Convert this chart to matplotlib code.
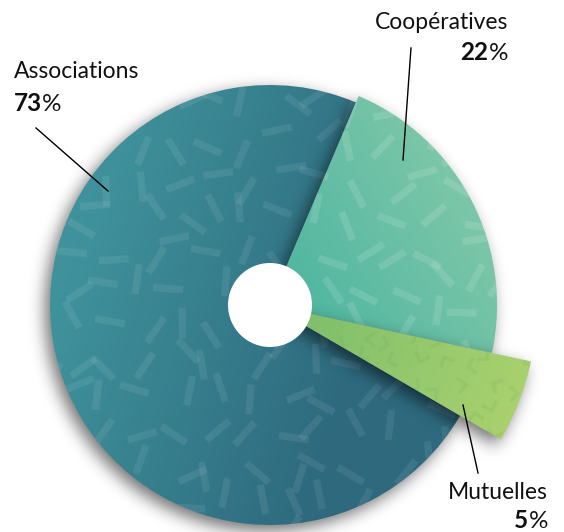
import numpy as np
import matplotlib
matplotlib.use("Agg")
import matplotlib.pyplot as plt
from matplotlib.patches import Wedge, Circle
from matplotlib.collections import LineCollection
from matplotlib.colors import to_rgb

# ---- data ----
categories = ["Coopératives", "Mutuelles", "Associations"]
shares = [22, 5, 73]
pct_text = ["22", "5", "73"]

# ---- geometry / style (canvas pixels, y pointing down) ----
W, H = 564, 532
CX, CY = 270, 305
HOLE_R = 42
START = -67.0                      # where the first slice begins (deg, clockwise from east)
radius = {"Coopératives": 227, "Mutuelles": 267, "Associations": 220}
grad = {
    "Associations": ("#3f929b", "#2e697e"),
    "Coopératives": ("#4ab4a0", "#7bc6a8"),
    "Mutuelles": ("#80bf6c", "#a9d16e"),
}

fig = plt.figure(figsize=(W / 100, H / 100), dpi=100)
ax = fig.add_axes([0, 0, 1, 1])
ax.set_xlim(0, W)
ax.set_ylim(H, 0)
ax.axis("off")

yy, xx = np.mgrid[0:H, 0:W] + 0.5
rr = np.hypot(xx - CX, yy - CY)


def blur(a, s):
    k = np.arange(-3 * s, 3 * s + 1)
    g = np.exp(-0.5 * (k / s) ** 2)
    g /= g.sum()
    a = np.apply_along_axis(lambda v: np.convolve(v, g, mode="same"), 0, a)
    a = np.apply_along_axis(lambda v: np.convolve(v, g, mode="same"), 1, a)
    return a


def shift(a, dy, dx):
    out = np.zeros_like(a)
    ys = slice(max(dy, 0), H + min(dy, 0))
    yd = slice(max(-dy, 0), H + min(-dy, 0))
    xs = slice(max(dx, 0), W + min(dx, 0))
    xd = slice(max(-dx, 0), W + min(-dx, 0))
    out[ys, xs] = a[yd, xd]
    return out


def mix(c0, c1, t):
    c0, c1 = np.array(to_rgb(c0)), np.array(to_rgb(c1))
    t = np.clip(t, 0, 1)[..., None]
    return c0 * (1 - t) + c1 * t


def hashf(i, j, k=0.0):
    v = np.sin(i * 12.9898 + j * 78.233 + k * 37.719) * 43758.5453
    return v - np.floor(v)


# slice angles from the shares
total = float(sum(shares))
angles = []
a0 = START
for s in shares:
    a1 = a0 + 360.0 * s / total
    angles.append((a0, a1))
    a0 = a1

pts = np.column_stack([xx.ravel(), yy.ravel()])

# draw the big slice first so the smaller ones sit on top of it
order = [2, 0, 1]
for idx in order:
    name = categories[idx]
    t1, t2 = angles[idx]
    R = radius[name]
    wedge = Wedge((CX, CY), R, t1, t2, transform=ax.transData)
    zb = order.index(idx) * 3

    # soft drop shadow
    mask = wedge.get_path().contains_points(pts, transform=wedge.get_patch_transform())
    mask = mask.reshape(H, W).astype(float)
    sh = shift(blur(mask, 8), 6, -5)
    shimg = np.zeros((H, W, 4))
    shimg[..., 3] = sh * 0.55
    ax.imshow(shimg, extent=(0, W, H, 0), origin="upper", interpolation="bilinear", zorder=1 + zb)

    # gradient fill
    c0, c1 = grad[name]
    if name == "Associations":
        t = (xx - 60) / 320.0 + (yy - 300) / 1000.0
    elif name == "Coopératives":
        t = ((xx - CX) * 0.85 + (CY - yy) * 0.5) / 215.0
    else:
        t = (rr - HOLE_R) / (R - HOLE_R)
    rgb = mix(c0, c1, t)
    im = ax.imshow(rgb, extent=(0, W, H, 0), origin="upper", interpolation="bilinear", zorder=2 + zb)
    im.set_clip_path(wedge)

    # texture
    segs = []
    if name != "Mutuelles":
        step = 36
        L = 30
        for i in range(-1, W // step + 2):
            for j in range(-1, H // step + 2):
                px = i * step + (hashf(i, j, 1) - 0.5) * step * 0.8
                py = j * step + (hashf(i, j, 2) - 0.5) * step * 0.8
                th = hashf(i, j, 3) * np.pi
                dx, dy = 0.5 * L * np.cos(th), 0.5 * L * np.sin(th)
                segs.append([(px - dx, py - dy), (px + dx, py + dy)])
        lc = LineCollection(segs, colors="white", alpha=0.08 if name == "Associations" else 0.12,
                            linewidths=5.2, capstyle="butt", zorder=3 + zb)
    else:
        step = 26
        L = 11
        for i in range(-1, W // step + 2):
            for j in range(-1, H // step + 2):
                px = i * step + (hashf(i, j, 4) - 0.5) * step * 0.6
                py = j * step + (hashf(i, j, 5) - 0.5) * step * 0.6
                th = hashf(i, j, 6) * 2 * np.pi
                p1 = (px + L * np.cos(th), py + L * np.sin(th))
                p2 = (px + L * np.cos(th + np.pi / 2), py + L * np.sin(th + np.pi / 2))
                segs.append([p1, (px, py), p2])
        lc = LineCollection(segs, colors="#5e9c55", alpha=0.12, linewidths=2.6,
                            capstyle="butt", joinstyle="miter", zorder=3 + zb)
    ax.add_collection(lc)
    lc.set_clip_path(wedge)

# centre hole
ax.add_patch(Circle((CX, CY), HOLE_R, facecolor="white", edgecolor="none", zorder=20))

# ---- labels ----
FONT = "Lato"
FS = 16.5
lab_pos = {
    "Associations": ((14, 78), (14, 111), "left"),
    "Coopératives": ((508, 29), (508, 60), "right"),
    "Mutuelles": ((548, 499), (548, 528), "right"),
}
leaders = {
    "Associations": ((36, 128), (108, 191)),
    "Coopératives": ((411, 48), (403, 160)),
    "Mutuelles": ((463, 405), (478, 473)),
}
for k, name in enumerate(categories):
    (nx, ny), (px, py), ha = lab_pos[name]
    ax.text(nx, ny, name, ha=ha, va="baseline", fontsize=FS, family=FONT, color="#111111", zorder=30)
    if ha == "left":
        tnum = ax.text(px, py, pct_text[k], ha="left", va="baseline", fontsize=FS + 1, family=FONT,
                       fontweight="bold", color="#111111", zorder=30)
        ax.annotate("%", xy=(1, 0), xycoords=tnum, ha="left", va="bottom", fontsize=FS + 1,
                    family=FONT, color="#111111", zorder=30)
    else:
        tp = ax.text(px, py, "%", ha="right", va="baseline", fontsize=FS + 1, family=FONT,
                     color="#111111", zorder=30)
        ax.annotate(pct_text[k], xy=(0, 0), xycoords=tp, ha="right", va="bottom", fontsize=FS + 1,
                    family=FONT, fontweight="bold", color="#111111", zorder=30)
    (x0, y0), (x1, y1) = leaders[name]
    ax.plot([x0, x1], [y0, y1], color="black", lw=1.0, zorder=30)

fig.savefig("out.png", dpi=100)
